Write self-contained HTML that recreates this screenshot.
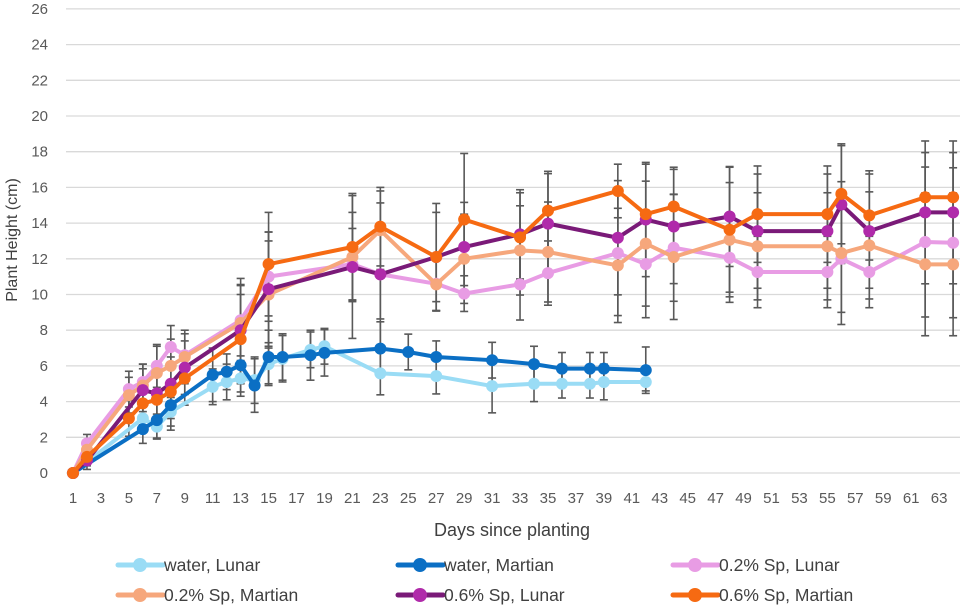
<!DOCTYPE html>
<html><head><meta charset="utf-8"><style>
html,body{margin:0;padding:0;background:#fff;}
svg{display:block;font-family:"Liberation Sans",sans-serif;}
</style></head><body>
<svg id="chart" width="969" height="606" viewBox="0 0 969 606">
<g id="grid"></g>
<g id="yticks"></g>
<g id="xticks"></g>
<g id="errs"></g>
<g id="series"></g>
<text transform="translate(17,240) rotate(-90)" text-anchor="middle" font-size="16" fill="#404040">Plant Height (cm)</text>
<text x="512" y="536" text-anchor="middle" font-size="18" fill="#404040">Days since planting</text>
<g id="legend"></g>
</svg>
<script>
const yTicks=[0,2,4,6,8,10,12,14,16,18,20,22,24,26];
const xLabels=[1,3,5,7,9,11,13,15,17,19,21,23,25,27,29,31,33,35,37,39,41,43,45,47,49,51,53,55,57,59,61,63];
const seriesNames=["water, Lunar","water, Martian","0.2% Sp, Lunar","0.2% Sp, Martian","0.6% Sp, Lunar","0.6% Sp, Martian"];
const seriesColors=["#9adcf5","#0b6fc4","#e89ce4","#f6a77c","#7a1a78","#f66a12"];
const markerColors=["#9adcf5","#0b6fc4","#e89ce4","#f6a77c","#b02aaa","#f66a12"];
const waterDays=[1,6,7,8,11,12,13,14,15,16,18,19,23,25,27,31,34,36,38,39,42];
const waterLunar=[0,3.06,2.6,3.43,4.83,5.1,5.3,5.2,6.1,6.4,6.9,7.1,5.58,null,5.43,4.87,5.0,5.0,5.0,5.1,5.1];
const waterLunarErr=[0,0.8,0.7,0.8,1.0,1.0,1.0,1.3,1.2,1.3,1.0,1.0,1.2,null,1.0,1.5,1.0,0.8,0.8,1.0,0.5];
const waterMartian=[0,2.46,2.96,3.8,5.5,5.67,6.04,4.9,6.5,6.5,6.6,6.73,6.97,6.78,6.5,6.32,6.1,5.85,5.85,5.85,5.76];
const waterMartianErr=[0,0.8,1.0,1.4,1.5,1.0,1.5,1.5,1.5,1.3,1.4,1.3,1.5,1.0,0.9,1.0,1.0,0.9,0.9,0.9,1.3];
const spDays=[1,2,5,6,7,8,9,13,15,21,23,27,29,33,35,40,42,44,48,50,55,56,58,62,64];
const sp2Lunar=[0,1.66,4.7,5.1,6.0,7.06,6.6,8.56,11.0,11.7,11.13,10.6,10.05,10.57,11.2,12.32,11.7,12.62,12.06,11.26,11.26,12.0,11.26,12.94,12.9];
const sp2LunarErr=[0,0.5,1.0,1.0,1.2,1.2,1.2,2.0,2.5,2.0,2.5,1.5,1.0,2.0,1.8,3.5,3.0,3.0,2.5,2.0,2.0,3.0,2.0,4.2,4.2];
const sp2Martian=[0,1.3,4.36,4.9,5.6,6.0,6.5,8.4,10.0,12.1,13.6,10.57,12.0,12.47,12.38,11.63,12.85,12.1,13.07,12.7,12.7,12.32,12.75,11.69,11.69];
const sp2MartianErr=[0,0.5,1.0,1.2,1.5,1.5,1.5,2.5,3.0,2.5,2.2,1.5,2.5,2.5,2.8,3.2,3.5,3.5,3.2,3.0,3.0,4.0,3.0,4.0,4.0];
const sp6Lunar=[0,0.7,null,4.64,4.46,5.0,5.9,8.0,10.3,11.54,11.13,12.1,12.66,13.37,13.97,13.18,14.2,13.81,14.37,13.55,13.55,15.04,13.55,14.6,14.6];
const sp6LunarErr=[0,0.5,null,1.2,1.5,1.5,1.5,2.5,3.2,4.0,4.0,2.5,2.5,2.5,2.8,3.2,3.2,3.2,2.8,3.2,3.2,3.3,3.2,4.0,4.0];
const sp6Martian=[0,0.9,3.06,3.9,4.1,4.55,5.3,7.5,11.7,12.66,13.8,12.1,14.2,13.2,14.7,15.8,14.5,14.93,13.63,14.5,14.5,15.64,14.43,15.45,15.45];
const sp6MartianErr=[0,0.5,1.0,1.2,1.5,1.5,1.5,2.5,2.9,3.0,2.2,3.0,3.7,2.5,2.2,1.5,2.8,2.2,3.5,2.7,2.7,2.8,2.5,2.5,2.5];
const allSeries=[[waterDays,waterLunar,waterLunarErr],[waterDays,waterMartian,waterMartianErr],[spDays,sp2Lunar,sp2LunarErr],[spDays,sp2Martian,sp2MartianErr],[spDays,sp6Lunar,sp6LunarErr],[spDays,sp6Martian,sp6MartianErr]];

const NS="http://www.w3.org/2000/svg";
function xS(d){return 73+(d-1)*13.97;}
function yS(v){return 473-v*17.85;}
function mk(tag,attrs,parent){const e=document.createElementNS(NS,tag);for(const k in attrs)e.setAttribute(k,attrs[k]);parent.appendChild(e);return e;}
const grid=document.getElementById('grid'),yt=document.getElementById('yticks'),xt=document.getElementById('xticks');
yTicks.forEach(v=>{
  const l=mk('line',{x1:66,x2:960,y1:yS(v),y2:yS(v),stroke:'#d9d9d9','stroke-width':1.3},grid);
  
  
  const t=mk('text',{x:48,y:yS(v)+5,'text-anchor':'end','font-size':15,fill:'#595959'},yt);
  t.textContent=v;
  
  
});
xLabels.forEach(d=>{
  const t=mk('text',{x:xS(d),y:503,'text-anchor':'middle','font-size':15,fill:'#595959'},xt);
  t.textContent=d;
  
  
});
const errs=document.getElementById('errs'),sg=document.getElementById('series');
allSeries.forEach((s,i)=>{
  const [days,vals,er]=s;
  days.forEach((d,j)=>{
    if(vals[j]==null||!er[j])return;
    const x=xS(d),y1=yS(vals[j]-er[j]),y2=yS(vals[j]+er[j]);
    const g=mk('g',{stroke:'#595959','stroke-width':1.6},errs);
    
    
    mk('line',{x1:x,x2:x,y1:y1,y2:y2},g);
    mk('line',{x1:x-4,x2:x+4,y1:y1,y2:y1},g);
    mk('line',{x1:x-4,x2:x+4,y1:y2,y2:y2},g);
  });
});
allSeries.forEach((s,i)=>{
  const [days,vals]=s;
  const pts=[];days.forEach((d,j)=>{if(vals[j]!=null)pts.push([xS(d),yS(vals[j])]);});
  const g=mk('g',{},sg);
  
  
  const p=mk('polyline',{points:pts.map(p=>p.join(',')).join(' '),fill:'none',stroke:seriesColors[i],'stroke-width':4,'stroke-linejoin':'round'},g);
  
  
  pts.forEach(pt=>{
    const c=mk('circle',{cx:pt[0],cy:pt[1],r:6,fill:markerColors[i]},g);
    
    
  });
});
const lg=document.getElementById('legend');
const lx=[118,398,673],ly=[565,595];
seriesNames.forEach((n,i)=>{
  const x=lx[i%3],y=ly[Math.floor(i/3)];
  const g=mk('g',{},lg);
  
  
  mk('line',{x1:x,x2:x+45,y1:y,y2:y,stroke:seriesColors[i],'stroke-width':5,'stroke-linecap':'round'},g);
  mk('circle',{cx:x+22,cy:y,r:7,fill:markerColors[i]},g);
  const t=mk('text',{x:x+46,y:y+6,'font-size':17.5,fill:'#404040'},g);
  t.textContent=n;
});
</script>
</body></html>
